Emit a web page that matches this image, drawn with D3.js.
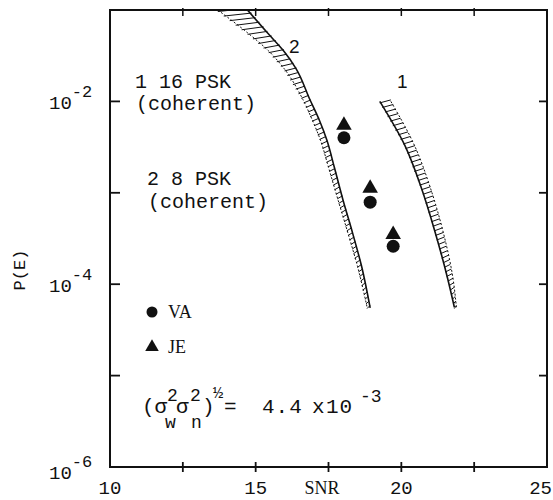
<!DOCTYPE html>
<html>
<head>
<meta charset="utf-8">
<script src="https://cdn.jsdelivr.net/npm/d3@7"></script>
<style>
  body { margin: 0; background: #fff; }
  svg text { fill: #111; }
</style>
</head>
<body>
<div id="chart"></div>
<script>
////////////////////////////////////////////////////////////////////////
//
// data (SNR in dB, P(E) error probability)
//
////////////////////////////////////////////////////////////////////////
var xTickValues = [10, 12.5, 15, 17.5, 20, 22.5, 25];
var xTickLabels = ["10", "", "15", "", "20", "", "25"];
var yTickValues = [1e-6, 1e-5, 1e-4, 1e-3, 1e-2, 1e-1];
var yTickLabels = ["-6", "", "-4", "", "-2", ""];

// curve 2 : 8 PSK (coherent) -- band between lo and hi SNR
var curve2Pe    = [1e-1, 5.6e-2, 3.6e-2, 2.3e-2, 1.05e-2, 6.3e-3, 3.8e-3, 1.9e-3, 8.3e-4, 3.6e-4, 1.55e-4, 5.5e-5];
var curve2SnrLo = [13.70, 14.73, 15.43, 15.97, 16.62, 16.94, 17.22, 17.50, 17.83, 18.17, 18.50, 18.83];
var curve2SnrHi = [14.72, 15.41, 15.95, 16.38, 16.86, 17.18, 17.44, 17.70, 18.00, 18.33, 18.64, 18.93];

// curve 1 : 16 PSK (coherent)
var curve1Pe    = [1e-2, 3.3e-3, 1.1e-3, 3.9e-4, 1.12e-4, 5.6e-5];
var curve1SnrLo = [19.26, 20.12, 20.70, 21.14, 21.60, 21.82];
var curve1SnrHi = [19.64, 20.45, 21.01, 21.42, 21.78, 21.89];

// measured points
var pointSnr = [18.03, 18.93, 19.72];
var vaPe     = [4.0e-3, 7.9e-4, 2.6e-4];
var jePe     = [5.5e-3, 1.12e-3, 3.5e-4];


////////////////////////////////////////////////////////////////////////
//
// set up svg and scales
//
////////////////////////////////////////////////////////////////////////
var width = 553, height = 500;
var plotL = 110, plotR = 547, plotT = 10, plotB = 467;
var mono = "'Liberation Mono', 'DejaVu Sans Mono', monospace";
var serif = "'Liberation Serif', 'DejaVu Serif', serif";
var sans = "'Liberation Sans', Arial, sans-serif";

var svg = d3.select("#chart").append("svg")
    .attr("width", width)
    .attr("height", height);

var x = d3.scaleLinear().domain([10, 25]).range([plotL, plotR]);
var y = d3.scaleLog().domain([1e-6, 1e-1]).range([plotB, plotT]);

svg.append("clipPath").attr("id", "plotClip")
    .append("rect")
    .attr("x", plotL).attr("y", plotT)
    .attr("width", plotR - plotL).attr("height", plotB - plotT);


////////////////////////////////////////////////////////////////////////
//
// frame + ticks
//
////////////////////////////////////////////////////////////////////////
svg.append("rect")
    .attr("x", plotL).attr("y", plotT)
    .attr("width", plotR - plotL).attr("height", plotB - plotT)
    .attr("fill", "none")
    .attr("stroke", "#111")
    .attr("stroke-width", 2);

var xInner = xTickValues.slice(1, -1);

// bottom ticks cross the axis
svg.selectAll(".xtickB").data(xInner).enter().append("line")
    .attr("x1", d => x(d)).attr("x2", d => x(d))
    .attr("y1", plotB - 5).attr("y2", plotB + 5)
    .attr("stroke", "#111").attr("stroke-width", 1.8);

// top ticks
svg.selectAll(".xtickT").data(xInner).enter().append("line")
    .attr("x1", d => x(d)).attr("x2", d => x(d))
    .attr("y1", plotT - 2).attr("y2", plotT + 6)
    .attr("stroke", "#111").attr("stroke-width", 1.5);

var yInner = yTickValues.slice(1, -1);

svg.selectAll(".ytickL").data(yInner).enter().append("line")
    .attr("x1", plotL).attr("x2", plotL + 10)
    .attr("y1", d => y(d)).attr("y2", d => y(d))
    .attr("stroke", "#111").attr("stroke-width", 1.8);

svg.selectAll(".ytickR").data(yInner).enter().append("line")
    .attr("x1", plotR - 8).attr("x2", plotR)
    .attr("y1", d => y(d)).attr("y2", d => y(d))
    .attr("stroke", "#111").attr("stroke-width", 1.8);

// x tick labels (last one pulled in so it stays on the page)
var lastX = xTickValues[xTickValues.length - 1];
svg.selectAll(".xlab").data(xTickValues).enter().append("text")
    .attr("x", d => d === lastX ? width - 1 : x(d))
    .attr("y", 494)
    .attr("text-anchor", d => d === lastX ? "end" : "middle")
    .style("font-family", mono)
    .style("font-size", "19px")
    .text((d, i) => xTickLabels[i]);

svg.append("text")
    .attr("x", 322).attr("y", 494)
    .attr("text-anchor", "middle")
    .style("font-family", serif)
    .style("font-size", "18px")
    .text("SNR");

// y tick labels  10^-n
var yLab = svg.selectAll(".ylab")
    .data(yTickValues.filter((d, i) => yTickLabels[i] !== ""))
    .enter().append("text")
    .attr("x", 49)
    .attr("y", d => y(d) + (d === 1e-6 ? 12 : 8))
    .style("font-family", mono)
    .style("font-size", "19px");

yLab.append("tspan").text("10");
yLab.append("tspan")
    .attr("dy", -12)
    .style("font-size", "17px")
    .text(d => yTickLabels[yTickValues.indexOf(d)]);

svg.append("text")
    .attr("transform", "translate(25,270) rotate(-90)")
    .attr("text-anchor", "middle")
    .style("font-family", mono)
    .style("font-size", "17px")
    .text("P(E)");


////////////////////////////////////////////////////////////////////////
//
// hatched bands for the two theory curves
//
////////////////////////////////////////////////////////////////////////
function drawBand(pe, lo, hi, solidEdge)
    {
    var g = svg.append("g").attr("clip-path", "url(#plotClip)");
    var logPe = pe.map(d => Math.log10(d));

    var loAt = d3.scaleLinear().domain(logPe).range(lo);
    var hiAt = d3.scaleLinear().domain(logPe).range(hi);

    var edge = d3.line().curve(d3.curveMonotoneY)
        .x(d => x(d[0])).y(d => y(d[1]));

    g.append("path")
        .attr("d", edge(lo.map((s, i) => [s, pe[i]])))
        .attr("fill", "none").attr("stroke", "#111")
        .attr("stroke-width", solidEdge === "lo" ? 1.6 : 1)
        .attr("stroke-dasharray", solidEdge === "lo" ? null : "2,2");

    g.append("path")
        .attr("d", edge(hi.map((s, i) => [s, pe[i]])))
        .attr("fill", "none").attr("stroke", "#111")
        .attr("stroke-width", solidEdge === "hi" ? 1.6 : 1)
        .attr("stroke-dasharray", solidEdge === "hi" ? null : "2,2");

    // rungs
    var rungs = [];
    for (var l = logPe[0]; l >= logPe[logPe.length - 1]; l -= 0.05)
        rungs.push(l);

    g.selectAll(".rung").data(rungs).enter().append("line")
        .attr("x1", d => x(loAt(d)))
        .attr("y1", d => y(Math.pow(10, d)) + 1.5)
        .attr("x2", d => x(hiAt(d)))
        .attr("y2", d => y(Math.pow(10, d)) - 1.5)
        .attr("stroke", "#111")
        .attr("stroke-width", 1);
    }

drawBand(curve2Pe, curve2SnrLo, curve2SnrHi, "hi");
drawBand(curve1Pe, curve1SnrLo, curve1SnrHi, "lo");

svg.append("text").attr("x", 289).attr("y", 53)
    .style("font-family", sans).style("font-size", "19px").text("2");
svg.append("text").attr("x", 397).attr("y", 88)
    .style("font-family", sans).style("font-size", "19px").text("1");


////////////////////////////////////////////////////////////////////////
//
// measured points
//
////////////////////////////////////////////////////////////////////////
var tri = d3.symbol().type(d3.symbolTriangle).size(105);

svg.selectAll(".va").data(pointSnr).enter().append("circle")
    .attr("cx", d => x(d))
    .attr("cy", (d, i) => y(vaPe[i]))
    .attr("r", 6.5)
    .attr("fill", "#111");

svg.selectAll(".je").data(pointSnr).enter().append("path")
    .attr("d", tri)
    .attr("transform", (d, i) => "translate(" + x(d) + "," + y(jePe[i]) + ")")
    .attr("fill", "#111");


////////////////////////////////////////////////////////////////////////
//
// annotations and legend
//
////////////////////////////////////////////////////////////////////////
function note(tx, ty, str, size, family)
    {
    return svg.append("text")
        .attr("x", tx).attr("y", ty)
        .style("font-family", family || mono)
        .style("font-size", (size || 20) + "px")
        .text(str);
    }

note(135, 88, "1 16 PSK");
note(136, 110, "(coherent)");
note(147, 185, "2 8 PSK");
note(148, 208, "(coherent)");

svg.append("circle").attr("cx", 152).attr("cy", 312).attr("r", 5.5).attr("fill", "#111");
note(168, 318, "VA", 18, serif);
svg.append("path").attr("d", d3.symbol().type(d3.symbolTriangle).size(80))
    .attr("transform", "translate(152,347)").attr("fill", "#111");
note(168, 353, "JE", 18, serif);

// (sigma_w^2 sigma_n^2)^1/2 = 4.4 x 10^-3
note(142, 413, "(σ", 21);
note(167, 401, "2", 18);
note(165, 428, "w", 18);
note(176, 413, "σ", 21);
note(190, 401, "2", 18);
note(191, 428, "n", 18);
note(202, 413, ")", 21);
note(213, 398, "½", 17);
note(224, 413, "=", 21);
note(262, 413, "4.4", 21).style("letter-spacing", "1px");
note(312, 413, "x", 21);
note(326, 413, "10", 21).style("letter-spacing", "1px");
note(360, 402, "-3", 18);
</script>
</body>
</html>
